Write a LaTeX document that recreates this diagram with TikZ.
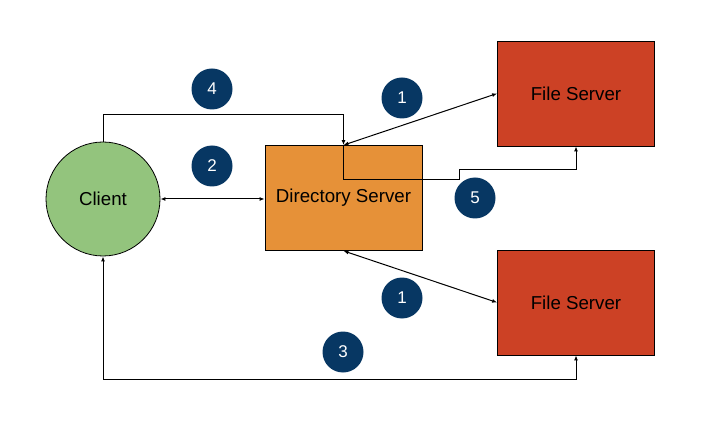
\documentclass[tikz,border=0pt]{standalone}
\usepackage{fontspec}
\setmainfont{Liberation Sans}
\usetikzlibrary{arrows.meta,positioning}
\definecolor{clientgreen}{HTML}{93C47D}
\definecolor{dirorange}{HTML}{E69138}
\definecolor{filered}{HTML}{CC4125}
\definecolor{stepblue}{HTML}{073763}

\begin{document}
\begin{tikzpicture}[x=1pt,y=-1pt,>={Latex[length=5pt,width=4pt]},
  box/.style={draw=black,line width=0.8pt,minimum width=157pt,minimum height=105pt,
    inner sep=0pt,font=\fontsize{18.7}{22}\selectfont},
  badge/.style={circle,fill=stepblue,text=white,minimum size=41pt,inner sep=0pt,
    font=\fontsize{17}{20}\selectfont},
  link/.style={line width=1pt}]
  \useasboundingbox (0,0) rectangle (711,435);
  % nodes
  \node[box,circle,minimum size=114pt,fill=clientgreen] (client) at (103,199) {Client};
  \node[box,fill=dirorange] (dir) at (343.5,198) {Directory Server};
  \node[box,fill=filered] (fs1) at (576,93.5) {File Server};
  \node[box,fill=filered] (fs2) at (576,302.5) {File Server};
  % step numbers
  \node[badge] (s4) at (212,89) {4};
  \node[badge] (s2) at (212,166) {2};
  \node[badge] (s1a) at (402,98) {1};
  \node[badge] (s5) at (475,198) {5};
  \node[badge] (s1b) at (402,298) {1};
  \node[badge] (s3) at (343,352) {3};
  % connectors
  \draw[link,<->] (client.east) -- (client.east -| dir.west);
  \draw[link,->] (client.north) -- ++(0,-27) -| (dir.north);
  \draw[link,<->] (dir.north) -- (fs1.west);
  \draw[link,<->] (dir.south) -- (fs2.west);
  \draw[link,->] (dir.north) |- (459,180) -- (459,170) -| (fs1.south);
  \draw[link,<->] (fs2.south) -- ++(0,24) -| (client.south);
\end{tikzpicture}
\end{document}
